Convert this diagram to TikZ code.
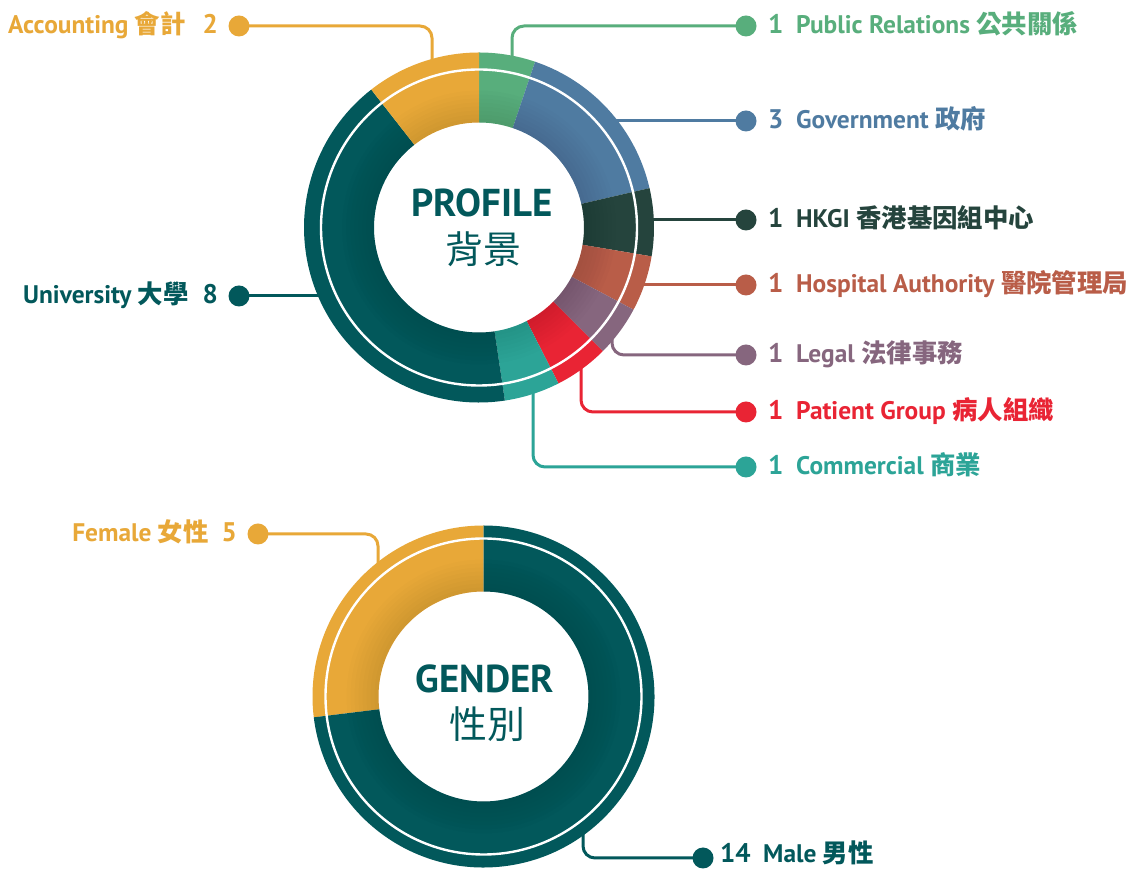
\documentclass[tikz,border=0pt]{standalone}
\usepackage{fontspec}
\setmainfont{PT Sans}
\newfontfamily\cjk{Noto Sans CJK TC}
\definecolor{acc}{HTML}{E8A838}
\definecolor{prc}{HTML}{58AE7C}
\definecolor{gov}{HTML}{4F7BA1}
\definecolor{hkgi}{HTML}{25443D}
\definecolor{hosp}{HTML}{B95D48}
\definecolor{legal}{HTML}{86667E}
\definecolor{pat}{HTML}{E92434}
\definecolor{com}{HTML}{2CA497}
\definecolor{uni}{HTML}{02585B}
\newcommand\donutseg[5]{\fill[#1] (#2:#5) arc[start angle=#2,end angle=#3,radius=#5] -- (#3:#4) arc[start angle=#3,end angle=#2,radius=#4] -- cycle;}
\newcommand\innershade{\foreach \k in {1,...,8}{\fill[black,opacity=0.013,even odd rule] (0,0) circle[radius=105+4*\k] (0,0) circle[radius=105];}}
\tikzset{
  lblfont/.style={font=\bfseries\fontsize{25.5}{25.5}\selectfont},
  numfont/.style={font=\bfseries\fontsize{27}{27}\selectfont},
  lbl/.style={lblfont, anchor=base west, inner sep=0pt, text=#1},
  lble/.style={lblfont, anchor=base east, inner sep=0pt, text=#1},
  num/.style={numfont, anchor=base west, inner sep=0pt, text=#1},
  nume/.style={numfont, anchor=base east, inner sep=0pt, text=#1},
  dotnode/.style={circle, fill=#1, minimum size=21bp, inner sep=0pt},
  conn/.style={draw=#1, line width=3bp, rounded corners=12bp},
  ttl/.style={anchor=base, inner sep=0pt, text=uni, font=\bfseries\fontsize{39}{39}\selectfont},
  ttlcjk/.style={anchor=base, inner sep=0pt, text=uni, font=\cjk\fontsize{38}{38}\selectfont},
}
\begin{document}
\begin{tikzpicture}[x=1bp,y=1bp]
\useasboundingbox (0,0) rectangle (1133,870);
\fill[white] (0,0) rectangle (1133,870);

% ---------- PROFILE donut ----------
\begin{scope}[shift={(479,642.5)}]
  \donutseg{prc}{90}{71.3}{105}{175}
  \donutseg{gov}{71.3}{13}{105}{175}
  \donutseg{hkgi}{13}{-9.5}{105}{175}
  \donutseg{hosp}{-9.5}{-28}{105}{175}
  \donutseg{legal}{-28}{-45}{105}{175}
  \donutseg{pat}{-45}{-63}{105}{175}
  \donutseg{com}{-63}{-81.5}{105}{175}
  \donutseg{uni}{-81.5}{-232}{105}{175}
  \donutseg{acc}{128}{90}{105}{175}
  \innershade
  \draw[white, line width=2.4bp] (0,0) circle[radius=158];
\end{scope}
\node[ttl] (tProfile) at (482,653) {PROFILE};
\node[ttlcjk] (tProfileC) at (483,606) {背景};

% ---------- GENDER donut ----------
\begin{scope}[shift={(483.5,173.5)}]
  \donutseg{acc}{90}{187}{105}{171}
  \donutseg{uni}{187}{450}{105}{171}
  \innershade
  \draw[white, line width=2.4bp] (0,0) circle[radius=158];
\end{scope}
\node[ttl] (tGender) at (485,177) {GENDER};
\node[ttlcjk] (tGenderC) at (487,131) {性別};

% ---------- ring anchor points ----------
\coordinate (rAcc) at (432,808);
\coordinate (rPR)  at (512,810);
\coordinate (rGov) at (614,749);
\coordinate (rHK)  at (650,650);
\coordinate (rHos) at (640,585);
\coordinate (rLeg) at (612,533);
\coordinate (rPat) at (581,505);
\coordinate (rCom) at (533,480);
\coordinate (rUni) at (322,574);
\coordinate (rFem) at (378,305);
\coordinate (rMal) at (583,38);

% ---------- dots ----------
\node[dotnode=acc]   (dAcc) at (239,844) {};
\node[dotnode=prc]   (dPR)  at (746,844) {};
\node[dotnode=gov]   (dGov) at (746,749) {};
\node[dotnode=hkgi]  (dHK)  at (746,650) {};
\node[dotnode=hosp]  (dHos) at (746,585) {};
\node[dotnode=legal] (dLeg) at (746,515) {};
\node[dotnode=pat]   (dPat) at (746,458) {};
\node[dotnode=com]   (dCom) at (746,403) {};
\node[dotnode=uni]   (dUni) at (239,574) {};
\node[dotnode=acc]   (dFem) at (258,336) {};
\node[dotnode=uni]   (dMal) at (703,12) {};

% ---------- connectors ----------
\draw[conn=acc]   (dAcc.center) -- (rAcc |- dAcc) -- (rAcc);
\draw[conn=prc]   (dPR.center) -- (rPR |- dPR) -- (rPR);
\draw[conn=gov]   (dGov.center) -- (rGov);
\draw[conn=hkgi]  (dHK.center) -- (rHK);
\draw[conn=hosp]  (dHos.center) -- (rHos);
\draw[conn=legal] (dLeg.center) -- (rLeg |- dLeg) -- (rLeg);
\draw[conn=pat]   (dPat.center) -- (rPat |- dPat) -- (rPat);
\draw[conn=com]   (dCom.center) -- (rCom |- dCom) -- (rCom);
\draw[conn=uni]   (dUni.center) -- (rUni);
\draw[conn=acc]   (dFem.center) -- (rFem |- dFem) -- (rFem);
\draw[conn=uni]   (dMal.center) -- (rMal |- dMal) -- (rMal);

% ---------- labels ----------
\node[lble=acc] (tAcc) at (186,836) {Accounting {\cjk 會計}};
\node[nume=acc] (nAcc) at (218,836) {2};
\node[lble=uni] (tUni) at (189,566) {University {\cjk 大學}};
\node[nume=uni] (nUni) at (218,566) {8};
\node[lble=acc] (tFem) at (209,328) {Female {\cjk 女性}};
\node[nume=acc] (nFem) at (237,328) {5};
\node[num=uni]  (nMal) at (720,7) {14};
\node[lbl=uni]  (tMal) at (763,7) {Male {\cjk 男性}};

\node[num=prc]   (nPR)  at (768,836) {1};
\node[lbl=prc]   (tPR)  at (796,836) {Public Relations {\cjk 公共關係}};
\node[num=gov]   (nGov) at (768,741) {3};
\node[lbl=gov]   (tGov) at (796,741) {Government {\cjk 政府}};
\node[num=hkgi]  (nHK)  at (768,642) {1};
\node[lbl=hkgi]  (tHK)  at (796,642) {HKGI {\cjk 香港基因組中心}};
\node[num=hosp]  (nHos) at (768,577) {1};
\node[lbl=hosp]  (tHos) at (796,577) {Hospital Authority {\cjk 醫院管理局}};
\node[num=legal] (nLeg) at (768,507) {1};
\node[lbl=legal] (tLeg) at (796,507) {Legal {\cjk 法律事務}};
\node[num=pat]   (nPat) at (768,450) {1};
\node[lbl=pat]   (tPat) at (796,450) {Patient Group {\cjk 病人組織}};
\node[num=com]   (nCom) at (768,395) {1};
\node[lbl=com]   (tCom) at (796,395) {Commercial {\cjk 商業}};
\end{tikzpicture}
\end{document}
